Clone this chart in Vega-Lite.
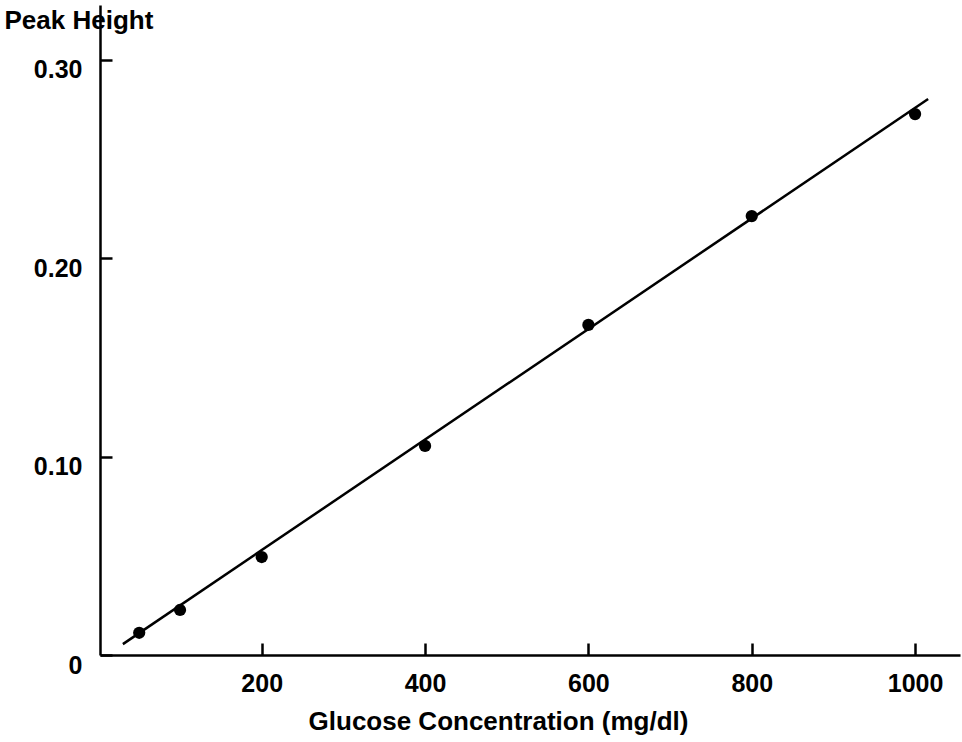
{
  "$schema": "https://vega.github.io/schema/vega-lite/v6.json",
  "width": 860,
  "height": 650,
  "autosize": {"type": "none"},
  "padding": {"left": 100, "top": 5, "right": 2, "bottom": 87},
  "background": "white",
  "config": {
    "view": {"stroke": null},
    "font": "Liberation Sans",
    "axis": {
      "domainColor": "black",
      "domainWidth": 2.5,
      "tickColor": "black",
      "tickWidth": 2.5,
      "tickSize": -12,
      "grid": false,
      "labelFont": "Liberation Sans",
      "labelFontWeight": "bold",
      "labelFontSize": 25,
      "labelColor": "black",
      "titleFont": "Liberation Sans",
      "titleFontWeight": "bold",
      "titleFontSize": 26,
      "titleColor": "black"
    }
  },
  "datasets": {
    "points": [
      {"conc": 50, "peak": 0.0112},
      {"conc": 100, "peak": 0.0227},
      {"conc": 200, "peak": 0.0494},
      {"conc": 400, "peak": 0.1054},
      {"conc": 600, "peak": 0.1664},
      {"conc": 800, "peak": 0.2213},
      {"conc": 1000, "peak": 0.2727}
    ],
    "fit": [
      {"conc": 30, "peak": 0.0055},
      {"conc": 1016, "peak": 0.2803}
    ]
  },
  "layer": [
    {
      "data": {"name": "fit"},
      "mark": {"type": "line", "color": "black", "strokeWidth": 2.5},
      "encoding": {
        "x": {
          "field": "conc", "type": "quantitative",
          "scale": {"domain": [2, 1055], "nice": false, "zero": false},
          "axis": {
            "values": [200, 400, 600, 800, 1000],
            "format": "d",
            "title": "Glucose Concentration (mg/dl)",
            "labelPadding": 28,
            "titleX": 398,
            "titleY": 74,
            "titleAnchor": "middle",
            "titleAlign": "center",
            "titleBaseline": "alphabetic"
          }
        },
        "y": {
          "field": "peak", "type": "quantitative",
          "scale": {"domain": [0, 0.3277], "nice": false},
          "axis": {
            "values": [0, 0.1, 0.2, 0.3],
            "labelExpr": "datum.value == 0 ? '0' : format(datum.value, '.2f')",
            "labelPadding": 30,
            "labelOffset": 10,
            "title": "Peak Height",
            "titleAngle": 0,
            "titleAlign": "left",
            "titleBaseline": "alphabetic",
            "titleX": -96,
            "titleY": 23
          }
        }
      }
    },
    {
      "data": {"name": "points"},
      "mark": {"type": "point", "filled": true, "color": "black", "opacity": 1, "size": 150},
      "encoding": {
        "x": {"field": "conc", "type": "quantitative"},
        "y": {"field": "peak", "type": "quantitative"}
      }
    }
  ]
}
